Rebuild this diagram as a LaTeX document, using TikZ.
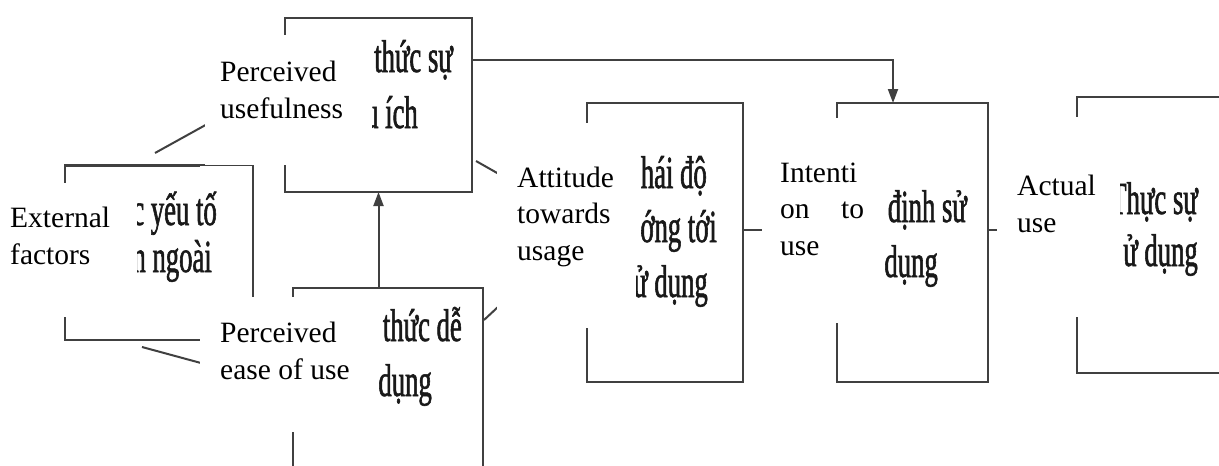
\documentclass[tikz,border=0pt]{standalone}
\usepackage{fontspec}
\setmainfont{Liberation Serif}
\newfontfamily\vnfont[FakeStretch=0.58,FakeBold=1.2]{Liberation Serif}
\usetikzlibrary{arrows.meta}
\begin{document}
\begin{tikzpicture}[x=1pt,y=-1pt,
  box/.style={draw=black!75, line width=2.2pt, anchor=north west, inner sep=0pt, outer sep=0pt},
  conn/.style={draw=black!75, line width=2pt},
  arr/.style={conn, -{Triangle[length=14pt,width=10pt]}},
  cover/.style={fill=white},
  en/.style={font=\fontsize{29.5}{36.5}\selectfont, align=left, anchor=base west, inner sep=0pt},
  vn/.style={font=\vnfont\fontsize{46}{54}\selectfont, text=black!90, anchor=base east, inner sep=0pt},
]
\useasboundingbox (0,0) rectangle (1219,466);

% boxes
\node[box, minimum width=188, minimum height=175] (ef) at (65,165) {};
\node[box, minimum width=187, minimum height=174] (pu) at (285,18) {};
\node[box, minimum width=190, minimum height=200] (peou) at (293,288) {};
\node[box, minimum width=156, minimum height=279] (atu) at (587,103) {};
\node[box, minimum width=151, minimum height=279] (iu) at (837,103) {};
\node[box, minimum width=170, minimum height=276] (au) at (1077,97) {};
\draw[black!75, line width=3pt] (ef.north west) -- ++(135,0);

% Vietnamese texts (visible parts)
\node[vn] (ef1) at (217,225) {c yếu tố};
\node[vn] (ef2) at (212,272) {n ngoài};
\node[vn] (pu1) at (453,72) {thức sự};
\node[vn] (pu2) at (418,128) {u ích};
\node[vn] (pe1) at (462,341) {thức dễ};
\node[vn] (pe2) at (432,396) {dụng};
\node[vn] (at1) at (707,188) {hái độ};
\node[vn] (at2) at (717,242) {ớng tới};
\node[vn] (at3) at (708,297) {ử dụng};
\node[vn] (iu1) at (967,222) {định sử};
\node[vn] (iu2) at (938,277) {dụng};
\node[vn] (au1) at (1198,214) {Thực sự};
\node[vn] (au2) at (1198,266) {ử dụng};

% connectors
\coordinate (e1) at (155,153);
\coordinate (e2) at (142,347);
\coordinate (p1) at (476,161);
\coordinate (q1) at (484,320);
\coordinate (atuin) at (587,224);
\coordinate (t1) at (893,60);
\draw[conn] (e1) -- (285,81);
\draw[conn] (e2) -- (peou.west);
\draw[conn] (p1) -- (atuin);
\draw[conn] (q1) -- (atuin);
\draw[arr] (peou.north -| pu.south) -- (pu.south);
\draw[arr] (pu.east |- t1) -- (t1) -- (t1 |- iu.north);
\draw[conn] (atu.east |- 0,230) -- (iu.west |- 0,230);
\draw[conn] (iu.east |- 0,230) -- (au.west |- 0,230);

% covers
\fill[cover] (0,183) rectangle (137,317);
\fill[cover] (205,35) rectangle (372,165);
\fill[cover] (200,297) rectangle (376,432);
\fill[cover] (497,123) rectangle (636,328);
\fill[cover] (762,118) rectangle (882,323);
\fill[cover] (997,117) rectangle (1120,317);

% English labels
\node[en] (efl) at (10,264) {External\\factors};
\node[en] (pul) at (220,118) {Perceived\\usefulness};
\node[en] (pel) at (220,379) {Perceived\\ease of use};
\node[en] (atl) at (517,260) {Attitude\\towards\\usage};
\node[en, text width=84pt] (iul) at (780,182) {Intenti\\on\hfill to\\use};
\node[en] (aul) at (1017,232) {Actual\\use};
\end{tikzpicture}
\end{document}
